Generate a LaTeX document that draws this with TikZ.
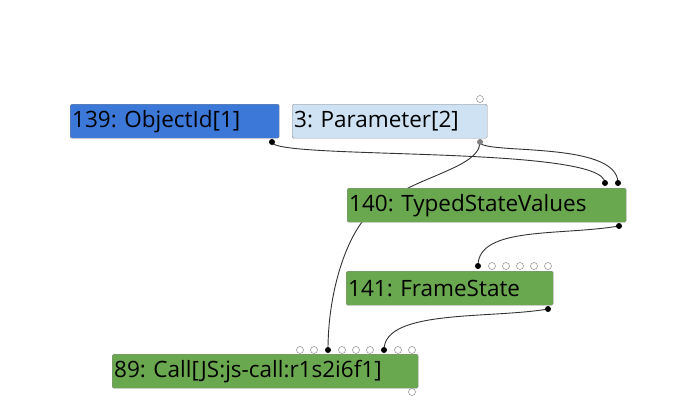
\documentclass[tikz,border=0pt]{standalone}
\usepackage{fontspec}
\setmainfont{Open Sans}
\frenchspacing
\definecolor{idblue}{HTML}{3C78D8}
\definecolor{parblue}{HTML}{CFE2F3}
\definecolor{opgreen}{HTML}{6AA84F}
\tikzstyle{opnode}=[draw=black!45, rounded corners=1.5pt, anchor=north west, minimum height=34pt, inner xsep=2pt, align=left, font=\fontsize{22.5}{26}\selectfont]
\tikzstyle{port}=[circle, fill=black, inner sep=0pt, minimum size=6pt]
\tikzstyle{freeport}=[circle, draw=black!55, fill=white, inner sep=0pt, minimum size=7pt, thin]
\tikzstyle{edge}=[black!80, line width=0.9pt]

\begin{document}
\begin{tikzpicture}[x=1pt, y=-1pt]
                    \useasboundingbox (0,0) rectangle (680,418);
                    % edges first, they pass behind the boxes
                    \coordinate (o139) at (272,142);
                    \coordinate (o3) at (480,142);
                    \coordinate (i140a) at (605,183);
                    \coordinate (i140b) at (618,183);
                    \coordinate (o140) at (619,226);
                    \coordinate (i141) at (478,266);
                    \coordinate (o141) at (548,309);
                    \coordinate (i89a) at (328,350);
                    \coordinate (i89b) at (384,350);
                    \draw[edge] (o139) .. controls (272,160) and (605,145) .. (i140a);
                    \draw[edge] (o3) .. controls (480,155) and (618,140) .. (i140b);
                    \draw[edge] (o3) .. controls (480,172) and (395,178) .. (362,222)
                                     .. controls (344,246) and (328,295) .. (i89a);
                    \draw[edge] (o140) .. controls (560,236) and (478,226) .. (i141);
                    \draw[edge] (o141) .. controls (490,319) and (384,309) .. (i89b);
                    % boxes
                    \node[opnode, fill=idblue, text width=205pt] (n139) at (70,104) {139: ObjectId[1]};
                    \node[opnode, fill=parblue, text width=191pt] (n3) at (292,104) {3: Parameter[2]};
                    \node[opnode, fill=opgreen, text width=275pt] (n140) at (347,188) {140: TypedStateValues};
                    \node[opnode, fill=opgreen, text width=203pt] (n141) at (346,271) {141: FrameState};
                    \node[opnode, fill=opgreen, text width=302pt] (n89) at (112,354) {89: Call[JS:js-call:r1s2i6f1]};
                    % ports
                    \node[freeport] (f3) at (480,99) {};
                    \node[port, fill=black!50] (p3) at (o3) {};
                    \node[port] (p139) at (o139) {};
                    \node[port] (p140a) at (i140a) {};
                    \node[port] (p140b) at (i140b) {};
                    \node[port] (p140) at (o140) {};
                    \node[port] (p141) at (i141) {};
                    \foreach \x in {492,506,520,534,548}
                        \node[freeport] at (\x,266) {};
                    \node[port] (p141o) at (o141) {};
                    \foreach \x in {300,314,342,356,370,398,412}
                        \node[freeport] at (\x,350) {};
                    \node[port] (p89a) at (i89a) {};
                    \node[port] (p89b) at (i89b) {};
                    \node[freeport] (f89) at (412,392) {};
                \end{tikzpicture}
\end{document}
